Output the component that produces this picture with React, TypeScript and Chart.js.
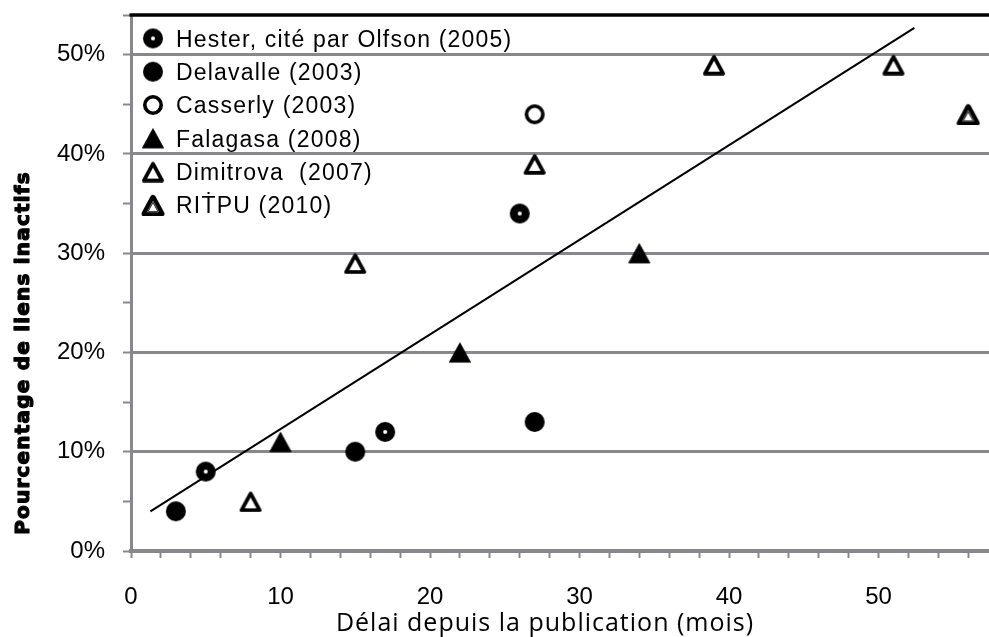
import React, { useEffect, useRef } from 'react';
import { Chart, registerables } from 'chart.js';

Chart.register(...registerables);

// ---- data ----
const hesterX = [5, 17, 26];
const hesterY = [0.08, 0.12, 0.34];
const delavalleX = [3, 15, 27];
const delavalleY = [0.04, 0.10, 0.13];
const casserlyX = [27];
const casserlyY = [0.44];
const falagasaX = [10, 22, 34];
const falagasaY = [0.11, 0.20, 0.30];
const dimitrovaX = [8, 15, 27, 39, 51];
const dimitrovaY = [0.05, 0.29, 0.39, 0.49, 0.49];
const ritpuX = [56];
const ritpuY = [0.44];
const trendX = [1.3, 52.4];
const trendY = [0.04, 0.527];

const seriesLabels = [
  'Hester, cité par Olfson (2005)',
  'Delavalle (2003)',
  'Casserly (2003)',
  'Falagasa (2008)',
  'Dimitrova  (2007)',
  'RIṪPU (2010)',
];
const xTitle = 'Délai depuis la publication (mois)';
const yTitle = 'Pourcentage de liens inactifs';

const xMin = 0;
const xMax = 60;
const xStep = 2;
const xLabelEvery = 10;
const yMin = 0;
const yMax = 0.54;
const yStep = 0.05;

const GRID = '#88888c';

function pts(xs: number[], ys: number[]) {
  return xs.map((x, i) => ({ x, y: ys[i] }));
}

function makeMarker(w: number, h: number, draw: (c: CanvasRenderingContext2D) => void) {
  const cv = document.createElement('canvas');
  cv.width = w;
  cv.height = h;
  const c = cv.getContext('2d')!;
  draw(c);
  return cv;
}

function triPath(c: CanvasRenderingContext2D, inset: number, w: number, h: number) {
  c.beginPath();
  c.moveTo(w / 2, 1 + inset);
  c.lineTo(w - 1 - inset * 0.87, h - 1 - inset * 0.5);
  c.lineTo(1 + inset * 0.87, h - 1 - inset * 0.5);
  c.closePath();
}

function buildMarkers() {
  const hester = makeMarker(22, 22, (c) => {
    c.fillStyle = '#000';
    c.beginPath(); c.arc(11, 11, 10, 0, Math.PI * 2); c.fill();
    c.fillStyle = '#fff';
    c.beginPath(); c.arc(11, 11, 2, 0, Math.PI * 2); c.fill();
  });
  const delavalle = makeMarker(22, 22, (c) => {
    c.fillStyle = '#000';
    c.beginPath(); c.arc(11, 11, 10, 0, Math.PI * 2); c.fill();
  });
  const casserly = makeMarker(22, 22, (c) => {
    c.strokeStyle = '#000'; c.lineWidth = 3.6;
    c.beginPath(); c.arc(11, 11, 8.2, 0, Math.PI * 2); c.stroke();
  });
  const falagasa = makeMarker(24, 22, (c) => {
    c.fillStyle = '#000';
    c.strokeStyle = '#000'; c.lineWidth = 1; c.lineJoin = 'round';
    triPath(c, 0.5, 24, 22); c.fill(); c.stroke();
  });
  const dimitrova = makeMarker(24, 22, (c) => {
    c.fillStyle = '#fff';
    c.strokeStyle = '#000'; c.lineWidth = 3.8; c.lineJoin = 'round';
    triPath(c, 2.2, 24, 22); c.fill(); c.stroke();
  });
  const ritpu = makeMarker(24, 22, (c) => {
    c.fillStyle = '#fff';
    c.strokeStyle = '#000'; c.lineWidth = 5.5; c.lineJoin = 'round';
    triPath(c, 2.6, 24, 22); c.fill(); c.stroke();
    c.strokeStyle = '#777'; c.lineWidth = 1;
    triPath(c, 6.2, 24, 22); c.stroke();
  });
  return [hester, delavalle, casserly, falagasa, dimitrova, ritpu];
}

export default function App() {
  const ref = useRef<HTMLCanvasElement | null>(null);

  useEffect(() => {
    if (!ref.current) return;
    const markers = buildMarkers();
    const seriesX = [hesterX, delavalleX, casserlyX, falagasaX, dimitrovaX, ritpuX];
    const seriesY = [hesterY, delavalleY, casserlyY, falagasaY, dimitrovaY, ritpuY];

    const datasets: any[] = seriesLabels.map((label, i) => ({
      label,
      data: pts(seriesX[i], seriesY[i]),
      pointStyle: markers[i],
      pointRadius: 10,
      showLine: false,
    }));
    datasets.push({
      label: 'trend',
      data: pts(trendX, trendY),
      showLine: true,
      borderColor: '#000',
      borderWidth: 2,
      pointRadius: 0,
      fill: false,
    });

    const overlay = {
      id: 'overlay',
      afterDraw(chart: any) {
        const { ctx, chartArea } = chart;
        ctx.save();
        // top border of plot area
        ctx.strokeStyle = '#000';
        ctx.lineWidth = 3.5;
        ctx.beginPath();
        ctx.moveTo(chartArea.left - 1.5, chartArea.top);
        ctx.lineTo(chartArea.right + 20, chartArea.top);
        ctx.stroke();

        // legend inside plot area
        ctx.fillStyle = '#000';
        ctx.textAlign = 'left';
        ctx.textBaseline = 'alphabetic';
        ctx.font = '23px "Liberation Sans", Arial, sans-serif';
        (ctx as any).letterSpacing = '1.2px';
        const lx = chartArea.left + 22;
        const ty = chartArea.top + 31.7;
        seriesLabels.forEach((label, i) => {
          const by = ty + i * 33.3;
          const m = markers[i];
          ctx.drawImage(m, lx - m.width / 2, by - 8.3 - m.height / 2);
          ctx.fillText(label, lx + 23, by);
        });

        // x axis title
        ctx.font = '25px "Open Sans", sans-serif';
        (ctx as any).letterSpacing = '1px';
        ctx.textAlign = 'center';
        ctx.fillText(xTitle, chartArea.left + 414, 631);

        // y axis title (heavy bold)
        ctx.translate(29, 353);
        ctx.rotate(-Math.PI / 2);
        ctx.font = 'bold 20px "DejaVu Sans", sans-serif';
        (ctx as any).letterSpacing = '1.2px';
        ctx.textAlign = 'center';
        ctx.strokeStyle = '#000';
        ctx.lineWidth = 1.2;
        ctx.lineJoin = 'round';
        ctx.strokeText(yTitle, 0, 0);
        ctx.fillText(yTitle, 0, 0);
        ctx.restore();
      },
    };

    const chart = new Chart(ref.current, {
      type: 'scatter',
      data: { datasets },
      plugins: [overlay],
      options: {
        animation: false,
        responsive: false,
        devicePixelRatio: 1,
        layout: { padding: { left: 0, right: 17, top: 15, bottom: 0 } },
        plugins: {
          legend: { display: false },
          tooltip: { enabled: false },
        },
        scales: {
          x: {
            type: 'linear',
            position: 'bottom',
            min: xMin,
            max: xMax,
            bounds: 'data',
            afterFit: (s: any) => {
              s.height = 86;
              s.paddingLeft = 0;
              s.paddingRight = 0;
            },
            ticks: {
              stepSize: xStep,
              autoSkip: false,
              maxRotation: 0,
              padding: 25,
              color: '#000',
              font: { family: '"Liberation Sans", Arial, sans-serif', size: 24 },
              callback: (v: any) => (Math.round(v) % xLabelEvery === 0 ? String(Math.round(v)) : ''),
            },
            grid: {
              drawOnChartArea: false,
              drawTicks: true,
              tickLength: 7,
              tickColor: GRID,
              tickWidth: 2,
            },
            border: { display: true, color: GRID, width: 4 },
          },
          y: {
            type: 'linear',
            min: yMin,
            max: yMax,
            bounds: 'data',
            afterFit: (s: any) => {
              s.width = 131;
              s.paddingTop = 0;
              s.paddingBottom = 0;
            },
            ticks: {
              stepSize: yStep,
              includeBounds: false,
              autoSkip: false,
              padding: 18,
              color: '#000',
              font: { family: '"Liberation Sans", Arial, sans-serif', size: 24 },
              callback: (v: any) => {
                const p = Math.round(v * 100);
                return p % 10 === 0 ? p + '%' : '';
              },
            },
            grid: {
              color: (c: any) => {
                const p = Math.round((c.tick ? c.tick.value : 0) * 100);
                return p % 10 === 0 && p > 0 ? GRID : 'rgba(0,0,0,0)';
              },
              lineWidth: 3,
              drawTicks: true,
              tickLength: 8,
              tickColor: GRID,
              tickWidth: 2,
            },
            border: { display: true, color: GRID, width: 3 },
          },
        },
      } as any,
    });
    return () => chart.destroy();
  }, []);

  return (
    <div
      style={{
        position: 'absolute',
        left: 0,
        top: 0,
        width: 989,
        height: 637,
        overflow: 'hidden',
        background: '#fff',
      }}
    >
      <canvas ref={ref} width={1045} height={637} style={{ display: 'block' }} />
    </div>
  );
}
